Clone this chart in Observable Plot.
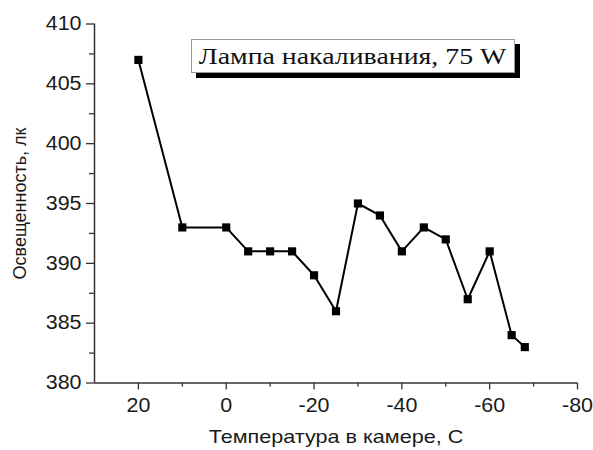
<!DOCTYPE html>
<html><head><meta charset="utf-8">
<script src="https://cdn.jsdelivr.net/npm/d3@7"></script>
<script src="https://cdn.jsdelivr.net/npm/@observablehq/plot@0.6"></script>
<style>
body{margin:0;background:#fff;}
#wrap{position:relative;width:593px;height:450px;}
#legend{position:absolute;left:191px;top:39px;width:322px;height:32px;background:#fff;border:1px solid #999;box-shadow:5px 5px 0 #000;font-family:"Liberation Serif","Times New Roman",serif;font-style:normal;font-size:24px;line-height:32px;text-align:center;color:#111;white-space:nowrap;}
#legend span{display:inline-block;transform:scaleX(1.16);transform-origin:center;}
</style></head><body><div id="wrap"><div id="legend"><span id="legtext"></span></div></div>
<script>
const temps = [20, 10, 0, -5, -10, -15, -20, -25, -30, -35, -40, -45, -50, -55, -60, -65, -68];
const illum = [407, 393, 393, 391, 391, 391, 389, 386, 395, 394, 391, 393, 392, 387, 391, 384, 383];
const xTicks = [20, 0, -20, -40, -60, -80];
const xMinorTicks = [10, -10, -30, -50, -70];
const yTicks = [380, 385, 390, 395, 400, 405, 410];
const yMinorTicks = [382.5, 387.5, 392.5, 397.5, 402.5, 407.5];
const xLabel = "Температура в камере, C";
const yLabel = "Освещенность, лк";
const legendText = "Лампа накаливания, 75 W";

const data = temps.map((t, i) => ({t, v: illum[i]}));
document.getElementById("legtext").textContent = legendText;

const chart = Plot.plot({
  width: 593, height: 450,
  marginLeft: 94, marginRight: 16, marginTop: 23.5, marginBottom: 67.5,
  style: {fontFamily: "Liberation Sans, Arial, sans-serif", fontSize: "18px", color: "#1a1a1a", background: "white"},
  x: {domain: [30, -80]},
  y: {domain: [380, 410]},
  marks: [
    Plot.axisX({ticks: xTicks, tickSize: 7, tickPadding: 8, tickFormat: d => String(d), label: null, stroke: "#333", strokeWidth: 1.3, fill: "#1a1a1a", fontSize: 19.5, className: "stretch-t"}),
    Plot.axisX({ticks: xMinorTicks, tickSize: 4, tickFormat: () => "", label: null, stroke: "#333", strokeWidth: 1.3}),
    Plot.axisY({ticks: yTicks, tickSize: 8, tickPadding: 5, tickFormat: d => String(d), label: null, stroke: "#333", strokeWidth: 1.3, fill: "#1a1a1a", fontSize: 19.5, className: "stretch-t"}),
    Plot.axisY({ticks: yMinorTicks, tickSize: 5, tickFormat: () => "", label: null, stroke: "#333", strokeWidth: 1.3}),
    Plot.ruleX([30], {stroke: "#333", strokeWidth: 1.5}),
    Plot.ruleY([380], {stroke: "#333", strokeWidth: 1.5}),
    Plot.line(data, {x: "t", y: "v", stroke: "#000", strokeWidth: 2}),
    Plot.dot(data, {x: "t", y: "v", symbol: "square", r: 4.6, fill: "#000", stroke: "none"}),
    Plot.text([xLabel], {frameAnchor: "bottom", dy: 54, lineAnchor: "middle", textAnchor: "middle", fontSize: 18, fill: "#1a1a1a", className: "stretch-l"}),
    Plot.text([yLabel], {frameAnchor: "left", dx: -74, dy: 0, rotate: -90, lineAnchor: "middle", textAnchor: "middle", fontSize: 18, fill: "#1a1a1a"})
  ]
});
// the reference image is horizontally stretched; mimic it for horizontal texts
function stretch(sel, k) {
  d3.select(chart).selectAll(sel).each(function() {
    const t = this.getAttribute("transform");
    if (t && /translate/.test(t) && !/rotate/.test(t)) {
      this.setAttribute("transform", t + ` scale(${k},1)`);
    } else if (!t) {
      const x = +this.getAttribute("x") || 0, y = +this.getAttribute("y") || 0;
      this.setAttribute("transform", `translate(${x},${y}) scale(${k},1)`);
      this.setAttribute("x", 0); this.setAttribute("y", 0);
    }
  });
}
stretch(".stretch-t text", 1.1);
stretch(".stretch-l text", 1.2);
const wrap = document.getElementById("wrap");
wrap.insertBefore(chart, wrap.firstChild);
</script></body></html>
